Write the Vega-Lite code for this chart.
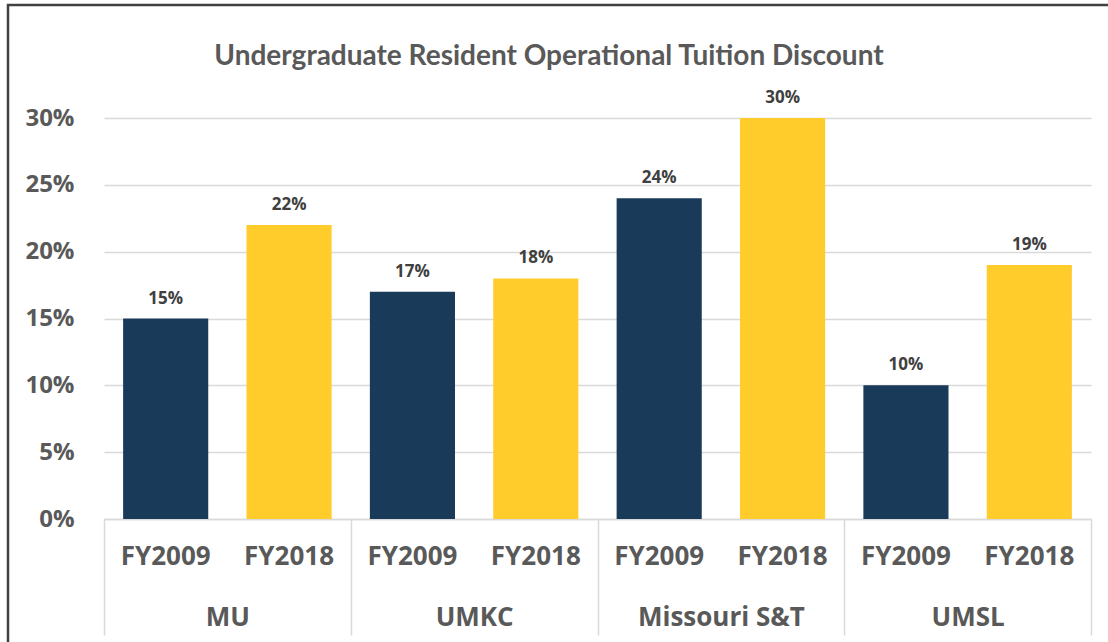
{
  "$schema": "https://vega.github.io/schema/vega-lite/v6.json",
  "width": 1100,
  "height": 637,
  "autosize": {"type": "none"},
  "padding": {"left": 8, "top": 5, "right": 0, "bottom": 0},
  "background": "white",
  "config": {
    "view": {"stroke": "#404040", "strokeWidth": 2.5, "strokeDash": [1100, 1737, 637]}
  },
  "title": {
    "text": "Undergraduate Resident Operational Tuition Discount",
    "font": "Lato",
    "fontSize": 28,
    "fontWeight": "bold",
    "color": "#595959",
    "anchor": "middle",
    "frame": "group",
    "baseline": "alphabetic",
    "dx": -9,
    "dy": 92
  },
  "data": {
    "values": [
      {"campus": "MU", "fy": "FY2009", "value": 0.15},
      {"campus": "MU", "fy": "FY2018", "value": 0.22},
      {"campus": "UMKC", "fy": "FY2009", "value": 0.17},
      {"campus": "UMKC", "fy": "FY2018", "value": 0.18},
      {"campus": "Missouri S&T", "fy": "FY2009", "value": 0.24},
      {"campus": "Missouri S&T", "fy": "FY2018", "value": 0.30},
      {"campus": "UMSL", "fy": "FY2009", "value": 0.10},
      {"campus": "UMSL", "fy": "FY2018", "value": 0.19}
    ]
  },
  "encoding": {
    "x": {
      "field": "campus",
      "type": "nominal",
      "sort": ["MU", "UMKC", "Missouri S&T", "UMSL"],
      "scale": {"paddingInner": 0, "paddingOuter": 0, "range": [96, 1083]},
      "axis": {
        "title": null,
        "offset": -123,
        "labelAngle": 0,
        "labelFont": "Open Sans",
        "labelFontSize": 26,
        "labelFontWeight": "bold",
        "labelColor": "#595959",
        "tickBand": "extent",
        "tickSize": 116,
        "tickColor": "#d9d9d9",
        "tickWidth": 1.5,
        "domainColor": "#d9d9d9",
        "domainWidth": 1.5,
        "labelPadding": -31,
        "labelBaseline": "top"
      }
    },
    "xOffset": {
      "field": "fy",
      "type": "nominal",
      "sort": ["FY2009", "FY2018"],
      "scale": {"paddingInner": 0.31, "paddingOuter": 0.155}
    }
  },
  "layer": [
    {
      "mark": {"type": "bar"},
      "encoding": {
        "y": {
          "field": "value",
          "type": "quantitative",
          "scale": {"domain": [0, 0.3], "nice": false, "range": [514, 113]},
          "axis": {
            "title": null,
            "offset": -96,
            "values": [0, 0.05, 0.1, 0.15, 0.2, 0.25, 0.3],
            "format": ".0%",
            "labelFont": "Open Sans",
            "labelFontSize": 24,
            "labelFontWeight": "bold",
            "labelColor": "#595959",
            "labelPadding": 30,
            "ticks": false,
            "domain": false,
            "grid": true,
            "gridColor": "#d9d9d9",
            "gridWidth": 1.5
          }
        },
        "color": {
          "field": "fy",
          "type": "nominal",
          "scale": {"domain": ["FY2009", "FY2018"], "range": ["#1A3A5A", "#FFCC2C"]},
          "legend": null
        }
      }
    },
    {
      "mark": {"type": "text", "font": "Open Sans", "fontSize": 17, "fontWeight": "bold", "color": "#404040", "dy": -20},
      "encoding": {
        "y": {"field": "value", "type": "quantitative"},
        "text": {"field": "value", "type": "quantitative", "format": ".0%"}
      }
    },
    {
      "mark": {"type": "text", "font": "Open Sans", "fontSize": 26, "fontWeight": "bold", "color": "#595959", "baseline": "middle", "dy": 38},
      "encoding": {
        "y": {"datum": 0},
        "text": {"field": "fy", "type": "nominal"}
      }
    }
  ]
}
